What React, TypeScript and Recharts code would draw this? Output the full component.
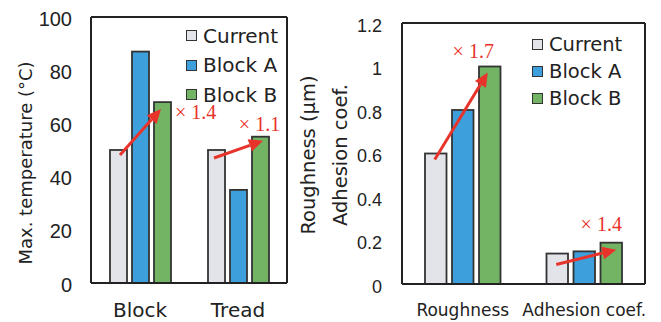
import React from "react";
import { BarChart, Bar, XAxis, YAxis, Legend } from "recharts";

// series
const seriesNames = ["Current", "Block A", "Block B"];
const seriesColors = ["#e2e4e9", "#3d9fdb", "#72b464"];

// left panel: max temperature
const tempCategories = ["Block", "Tread"];
const tempCurrent = [50, 50];
const tempBlockA = [87, 35];
const tempBlockB = [68, 55];
const tempRatios = ["× 1.4", "× 1.1"];
const tempTicks = [0, 20, 40, 60, 80, 100];

// right panel: roughness / adhesion
const surfCategories = ["Roughness", "Adhesion coef."];
const surfCurrent = [0.6, 0.14];
const surfBlockA = [0.8, 0.15];
const surfBlockB = [1.0, 0.19];
const surfRatios = ["× 1.7", "× 1.4"];
const surfTicks = [0, 0.2, 0.4, 0.6, 0.8, 1, 1.2];

const INK = "#222";
const EDGE = "#333";
const RED = "#e8332b";
const NUM_FONT = '"Liberation Sans", Arial, sans-serif';
const TEXT_FONT = '"DejaVu Sans", sans-serif';

// arrow / ratio label placement relative to bars (layout only)
const tempNotes = [
  { sdx: 1.5, sdy: 5, edx: -1.5, edy: 7, tdx: 12.5, tdy: 10, anchor: "start" },
  { sdx: -2.5, sdy: 8, edx: 2.5, edy: 4, tdx: -1, tdy: -13, anchor: "middle" },
];
const surfNotes = [
  { sdx: -1, sdy: 6, edx: -2, edy: 6, tdx: -16.5, tdy: -15.5, anchor: "middle" },
  { sdx: -1, sdy: 11, edx: 5, edy: 7, tdx: -10, tdy: -19, anchor: "middle" },
];

const blank = () => "";

function buildRows(cats: string[], cur: number[], a: number[], b: number[]) {
  return cats.map((name, i) => ({ name, current: cur[i], blockA: a[i], blockB: b[i] }));
}

function PlainBar(props: any) {
  const { x, y, width, height, fill } = props;
  return <rect x={x} y={y} width={width} height={height} fill={fill} stroke={EDGE} strokeWidth={1.8} />;
}

function ArrowBar(props: any) {
  const { x, y, width, height, payload, index, gap, notes, ratios } = props;
  const note = notes[index];
  const bottom = y + height;
  const curTop = bottom - (height * payload.current) / payload.blockB;
  const bx = x + width / 2;
  const cx = bx - 2 * (width + gap);
  const sx = cx + note.sdx;
  const sy = curTop + note.sdy;
  const ex = bx + note.edx;
  const ey = y + note.edy;
  const ang = Math.atan2(ey - sy, ex - sx);
  const hl = 14;
  const hw = 6.5;
  const baseX = ex - hl * Math.cos(ang);
  const baseY = ey - hl * Math.sin(ang);
  const px = -Math.sin(ang) * hw;
  const py = Math.cos(ang) * hw;
  return (
    <g>
      <PlainBar {...props} />
      <line x1={sx} y1={sy} x2={baseX} y2={baseY} stroke={RED} strokeWidth={3} />
      <polygon
        points={`${ex},${ey} ${baseX + px},${baseY + py} ${baseX - px},${baseY - py}`}
        fill={RED}
      />
      <text
        x={bx + note.tdx}
        y={y + note.tdy}
        textAnchor={note.anchor}
        dominantBaseline="central"
        fill={RED}
        fontSize={20}
        fontFamily='"Liberation Serif", "Times New Roman", serif'
      >
        {ratios[index]}
      </text>
    </g>
  );
}

function ValueTick(props: any) {
  const { x, y, payload, fontSize, shift } = props;
  return (
    <text x={x} y={y + shift} dy={fontSize * 0.358} textAnchor="end" fontSize={fontSize} fontFamily={NUM_FONT} fill={INK}>
      {String(payload.value)}
    </text>
  );
}

function CategoryTick(props: any) {
  const { x, y, payload, fontSize, textDy } = props;
  return (
    <text x={x} y={y + textDy} textAnchor="middle" fontSize={fontSize} fontFamily={TEXT_FONT} fill={INK}>
      {payload.value}
    </text>
  );
}

function AxisTitles(props: any) {
  const { viewBox, titles, fontSize } = props;
  const vb = viewBox || { x: 0, y: 0, width: 0, height: 0 };
  const cy = vb.y + vb.height / 2;
  return (
    <g>
      {titles.map((t: any) => (
        <text
          key={t.text}
          x={vb.x + t.x}
          y={cy + t.dy}
          transform={`rotate(-90 ${vb.x + t.x} ${cy + t.dy})`}
          textAnchor="middle"
          dominantBaseline="central"
          fontSize={fontSize}
          fontFamily={TEXT_FONT}
          fill={INK}
        >
          {t.text}
        </text>
      ))}
    </g>
  );
}

function LegendBox(props: any) {
  const { payload, rowH, fontSize } = props;
  const items = [...(payload || [])].sort(
    (a: any, b: any) => seriesNames.indexOf(a.value) - seriesNames.indexOf(b.value)
  );
  return (
    <div>
      {items.map((item: any) => (
        <div
          key={item.value}
          style={{ display: "flex", alignItems: "center", height: rowH, fontFamily: TEXT_FONT, fontSize, color: INK }}
        >
          <span
            style={{
              width: 11,
              height: 11,
              boxSizing: "border-box",
              border: "1.5px solid #333",
              background: item.color,
              marginRight: 6,
            }}
          />
          <span>{item.value}</span>
        </div>
      ))}
    </div>
  );
}

const frameLine = { stroke: INK, strokeWidth: 2 };
const layer: React.CSSProperties = { position: "absolute", left: 0, top: 0 };

// top and right edges of the plot box, as the axis lines of an overlaid chart
function FrameOverlay({ p }: any) {
  return (
    <div style={layer}>
      <BarChart
        width={p.width}
        height={322}
        data={p.rows}
        margin={{ top: p.margin.top - 10, right: 0, left: p.margin.left + p.yAxisWidth, bottom: p.xAxisHeight }}
      >
        <XAxis orientation="top" dataKey="name" height={10} axisLine={frameLine} tickLine={false} tickFormatter={blank} />
        <YAxis orientation="right" width={p.margin.right} domain={[0, p.max]} axisLine={frameLine} tickLine={false} tickFormatter={blank} />
      </BarChart>
    </div>
  );
}

// inward value ticks: a right-side axis placed on the left edge of the plot box
function TickOverlay({ p }: any) {
  const plotLeft = p.margin.left + p.yAxisWidth;
  return (
    <div style={layer}>
      <BarChart
        width={p.width}
        height={322}
        data={p.rows}
        margin={{ top: p.margin.top, right: p.width - plotLeft - 30, left: 0, bottom: p.xAxisHeight }}
      >
        <XAxis dataKey="name" hide />
        <YAxis
          orientation="right"
          width={30}
          domain={[0, p.max]}
          ticks={p.ticks}
          interval={0}
          axisLine={false}
          tickLine={frameLine}
          tickSize={7}
          tickFormatter={blank}
        />
      </BarChart>
    </div>
  );
}

// boundary mark between the two categories, on the bottom edge pointing up
function DividerOverlay({ p }: any) {
  const plotBottom = 322 - p.xAxisHeight;
  return (
    <div style={layer}>
      <BarChart
        width={p.width}
        height={322}
        data={p.rows}
        margin={{ top: plotBottom - 10, right: p.margin.right, left: p.margin.left + p.yAxisWidth, bottom: 5 }}
      >
        <XAxis
          orientation="top"
          type="number"
          domain={[0, p.rows.length]}
          ticks={[1]}
          allowDataOverflow
          height={10}
          axisLine={false}
          tickLine={frameLine}
          tickSize={6}
          tickFormatter={blank}
        />
        <YAxis hide domain={[0, 1]} />
      </BarChart>
    </div>
  );
}

function Panel(p: any) {
  return (
    <div style={{ position: "absolute", left: p.left, top: 0, width: p.width, height: 322 }}>
      <div style={layer}>
        <BarChart
          width={p.width}
          height={322}
          data={p.rows}
          margin={p.margin}
          barSize={p.barSize}
          barGap={p.barGap}
        >
          <XAxis
            dataKey="name"
            height={p.xAxisHeight}
            axisLine={frameLine}
            tickLine={false}
            tickSize={0}
            tickMargin={0}
            interval={0}
            tick={<CategoryTick fontSize={p.catFont} textDy={p.catDy} />}
          />
          <YAxis
            width={p.yAxisWidth}
            domain={[0, p.max]}
            ticks={p.ticks}
            interval={0}
            axisLine={frameLine}
            tickLine={false}
            tickSize={0}
            tickMargin={p.tickMargin}
            tick={<ValueTick fontSize={p.tickFont} shift={p.tickShift} />}
            label={<AxisTitles titles={p.titles} fontSize={p.titleFont} />}
          />
          <Legend
            layout="horizontal"
            verticalAlign="middle"
            align="center"
            wrapperStyle={{ left: p.legendX, top: p.legendY, width: 130 }}
            content={<LegendBox rowH={p.legendRowH} fontSize={p.legendFont} />}
          />
          <Bar
            dataKey="current"
            name={seriesNames[0]}
            fill={seriesColors[0]}
            isAnimationActive={false}
            shape={(s: any) => <PlainBar {...s} />}
          />
          <Bar
            dataKey="blockA"
            name={seriesNames[1]}
            fill={seriesColors[1]}
            isAnimationActive={false}
            shape={(s: any) => <PlainBar {...s} />}
          />
          <Bar
            dataKey="blockB"
            name={seriesNames[2]}
            fill={seriesColors[2]}
            isAnimationActive={false}
            shape={(s: any) => <ArrowBar {...s} gap={p.barGap} notes={p.notes} ratios={p.ratios} />}
          />
        </BarChart>
      </div>
      <FrameOverlay p={p} />
      <TickOverlay p={p} />
      <DividerOverlay p={p} />
    </div>
  );
}

export default function App() {
  return (
    <div style={{ position: "absolute", left: 0, top: 0, width: 661, height: 322, background: "#fff" }}>
      <Panel
        left={0}
        width={295}
        rows={buildRows(tempCategories, tempCurrent, tempBlockA, tempBlockB)}
        margin={{ top: 17, right: 8, left: 0, bottom: 0 }}
        yAxisWidth={91}
        xAxisHeight={39}
        max={100}
        ticks={tempTicks}
        tickMargin={19}
        tickFont={20}
        tickShift={1.5}
        catFont={20}
        catDy={34}
        titles={[{ text: "Max. temperature (°C)", x: 25, dy: 13 }]}
        titleFont={18}
        legendX={186}
        legendY={21}
        legendRowH={29.5}
        legendFont={20}
        barSize={17}
        barGap={5}
        notes={tempNotes}
        ratios={tempRatios}
      />
      <Panel
        left={295}
        width={366}
        rows={buildRows(surfCategories, surfCurrent, surfBlockA, surfBlockB)}
        margin={{ top: 23, right: 16, left: 0, bottom: 0 }}
        yAxisWidth={107}
        xAxisHeight={38}
        max={1.2}
        ticks={surfTicks}
        tickMargin={20}
        tickFont={18}
        tickShift={2.5}
        catFont={17}
        catDy={32}
        titles={[
          { text: "Roughness (μm)", x: 13, dy: 1.5 },
          { text: "Adhesion coef.", x: 45, dy: 1.5 },
        ]}
        titleFont={19.5}
        legendX={237}
        legendY={31}
        legendRowH={27.2}
        legendFont={19.5}
        barSize={21.5}
        barGap={5.5}
        notes={surfNotes}
        ratios={surfRatios}
      />
    </div>
  );
}
